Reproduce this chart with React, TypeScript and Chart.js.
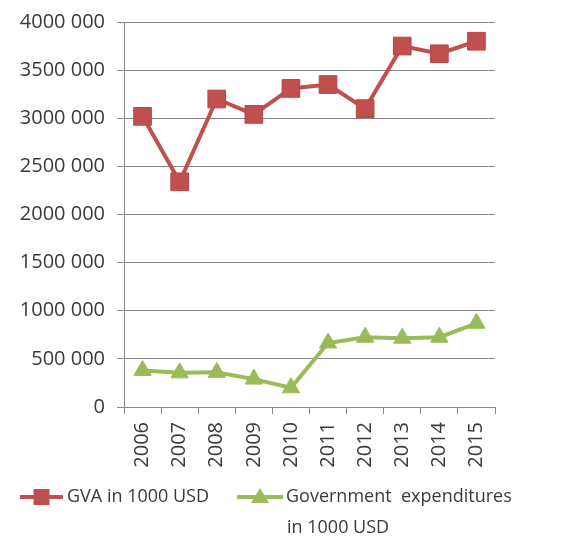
import React, { useEffect, useRef } from "react";
import { Chart, registerables } from "chart.js";

Chart.register(...registerables);

const years = ["2006", "2007", "2008", "2009", "2010", "2011", "2012", "2013", "2014", "2015"];
const gva = [3020000, 2340000, 3200000, 3040000, 3310000, 3350000, 3100000, 3750000, 3670000, 3800000];
const govExp = [380000, 355000, 360000, 290000, 200000, 665000, 725000, 715000, 725000, 870000];
const gvaLabel = "GVA in 1000 USD";
const govLabelLines = ["Government  expenditures", "in 1000 USD"];

const FONT = "'Open Sans', sans-serif";
const TEXT_COLOR = "#3a3a3a";
const RED = "#C0504D";
const GREEN = "#9BBB59";

const legendPlugin = {
  id: "customLegend",
  afterDraw(chart: any) {
    const ctx = chart.ctx;
    ctx.save();
    ctx.font = `18px ${FONT}`;
    ctx.fillStyle = TEXT_COLOR;
    ctx.textBaseline = "middle";
    ctx.textAlign = "left";
    const y1 = 497;
    const items = [
      { x0: 20, x1: 63, color: RED, style: "rect", lines: [gvaLabel], tx: 67 },
      { x0: 237, x1: 283, color: GREEN, style: "triangle", lines: govLabelLines, tx: 286 },
    ];
    items.forEach((it) => {
      ctx.strokeStyle = it.color;
      ctx.lineWidth = 4;
      ctx.beginPath();
      ctx.moveTo(it.x0, y1);
      ctx.lineTo(it.x1, y1);
      ctx.stroke();
      const cx = (it.x0 + it.x1) / 2;
      ctx.fillStyle = it.color;
      ctx.beginPath();
      if (it.style === "rect") {
        ctx.rect(cx - 8, y1 - 8, 16, 16);
      } else {
        ctx.moveTo(cx, y1 - 9);
        ctx.lineTo(cx + 9, y1 + 6);
        ctx.lineTo(cx - 9, y1 + 6);
        ctx.closePath();
      }
      ctx.fill();
      ctx.fillStyle = TEXT_COLOR;
      it.lines.forEach((ln, i) => {
        ctx.fillText(ln, it.tx + (i > 0 ? 1 : 0), y1 + i * 31);
      });
    });
    ctx.restore();
  },
};

export default function App() {
  const ref = useRef<HTMLCanvasElement>(null);
  useEffect(() => {
    document.body.style.margin = "0";
    const chart = new Chart(ref.current!, {
      type: "line",
      data: {
        labels: years,
        datasets: [
          {
            label: gvaLabel,
            data: gva,
            borderColor: RED,
            backgroundColor: RED,
            borderWidth: 4,
            pointStyle: "rect",
            pointRadius: 12.5,
            pointBorderColor: "#B8464A",
            pointBorderWidth: 1,
            pointBackgroundColor: RED,
          },
          {
            label: govLabelLines.join(" "),
            data: govExp,
            borderColor: GREEN,
            backgroundColor: GREEN,
            borderWidth: 4,
            pointStyle: "triangle",
            pointRadius: 10,
            pointBorderColor: GREEN,
            pointBorderWidth: 1,
            pointBackgroundColor: GREEN,
          },
        ],
      },
      options: {
        animation: false,
        responsive: false,
        layout: { padding: { left: 0, right: 68, top: 18, bottom: 63 } },
        plugins: { legend: { display: false }, tooltip: { enabled: false } },
        scales: {
          x: {
            offset: true,
            afterFit: (s: any) => { s.height = 70; },
            grid: {
              offset: true,
              drawOnChartArea: false,
              drawTicks: true,
              tickLength: 7,
              color: "#868686",
            },
            border: { color: "#868686", width: 1 },
            ticks: {
              minRotation: 90,
              maxRotation: 90,
              padding: 8,
              color: TEXT_COLOR,
              font: { family: FONT, size: 20 },
            },
          },
          y: {
            min: 0,
            max: 4000000,
            afterFit: (s: any) => { s.width = 124; },
            grid: { color: "#868686", tickLength: 7, drawTicks: true },
            border: { color: "#868686", width: 1 },
            ticks: {
              stepSize: 500000,
              padding: 12,
              color: TEXT_COLOR,
              font: { family: FONT, size: 20, lineHeight: 1 },
              callback: (v: any) => (v === 0 ? "0" : `${v / 1000} 000`),
            },
          },
        },
      },
      plugins: [legendPlugin],
    });
    return () => chart.destroy();
  }, []);
  return <canvas ref={ref} width={563} height={540} style={{ display: "block" }} />;
}
